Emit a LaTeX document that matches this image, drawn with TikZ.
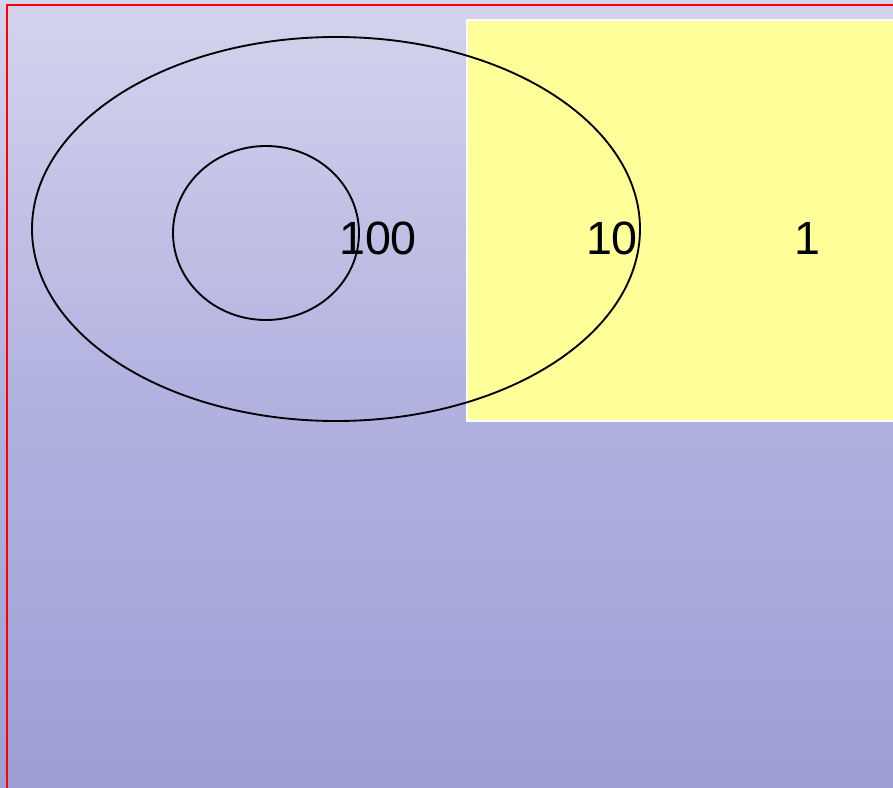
\documentclass[tikz,border=0pt]{standalone}
\usepackage{fontspec}
\setmainfont{Liberation Sans}
\definecolor{seatop}{HTML}{D4D4EE}
\definecolor{seamid}{HTML}{B2B2E0}
\definecolor{seabottom}{HTML}{9E9ED6}
\definecolor{paleyellow}{HTML}{FFFF99}
\tikzset{count/.style={font=\fontsize{35}{40}\selectfont, inner sep=0pt},
  ring/.style={line width=1.4pt}}
\begin{document}
\begin{tikzpicture}[x=0.75pt,y=-0.75pt]
\useasboundingbox (0,0) rectangle (893,788);
\shade[top color=seatop, bottom color=seabottom, middle color=seamid] (0,0) rectangle (893,788);
\draw[red, line width=2.2pt] (7,800) -- (7,5) -- (900,5);
\draw[white, line width=1.5pt, fill=paleyellow] (467,20) rectangle (900,421);
\draw[ring] (336,229) ellipse [x radius=304, y radius=192];
\draw[ring] (266,233) ellipse [x radius=93, y radius=87];
\node[count] (hundred) at (378,238) {100};
\node[count] (ten) at (612,238) {10};
\node[count] (one) at (807,238) {1};
\end{tikzpicture}
\end{document}
